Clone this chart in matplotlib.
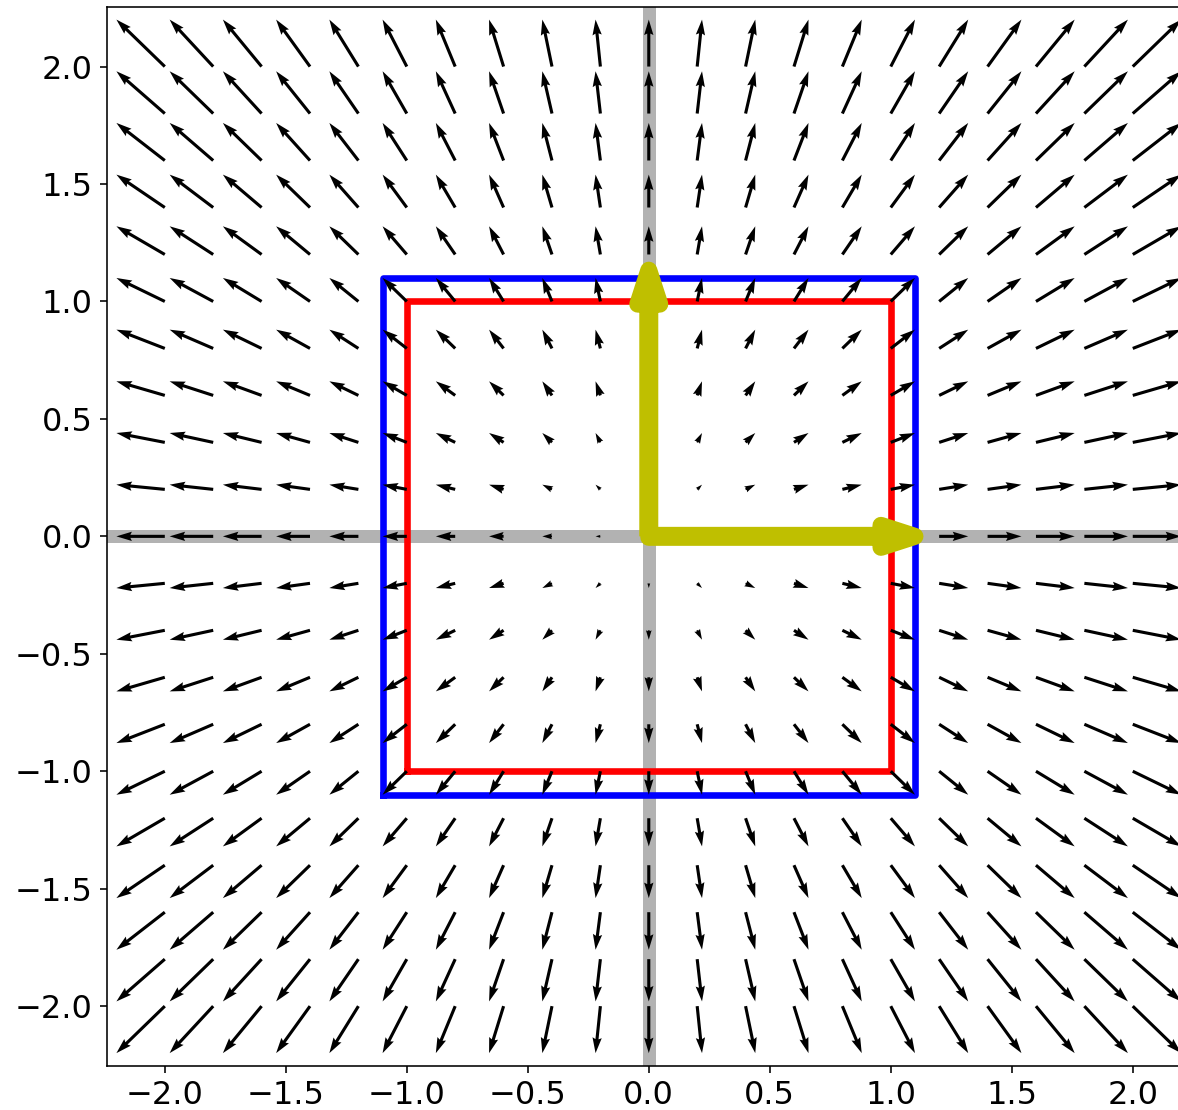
import numpy as np
import matplotlib
matplotlib.use('Agg')
import matplotlib.pyplot as plt

# transformation matrix (scales everything by 1.1)
A = [[1.1, 0.0],
     [0.0, 1.1]]

# grid points where the field arrows start
grid_ticks = [-2.0, -1.8, -1.6, -1.4, -1.2, -1.0, -0.8, -0.6, -0.4, -0.2, 0.0,
              0.2, 0.4, 0.6, 0.8, 1.0, 1.2, 1.4, 1.6, 1.8, 2.0]

# unit square and its image
square_x = [-1.0, 1.0, 1.0, -1.0, -1.0]
square_y = [-1.0, -1.0, 1.0, 1.0, -1.0]
image_x = [-1.1, 1.1, 1.1, -1.1, -1.1]
image_y = [-1.1, -1.1, 1.1, 1.1, -1.1]

# images of the basis vectors
basis_u = [A[0][0], A[0][1]]
basis_v = [A[1][0], A[1][1]]

axis_ticks = [-2.0, -1.5, -1.0, -0.5, 0.0, 0.5, 1.0, 1.5, 2.0]

X, Y = np.meshgrid(grid_ticks, grid_ticks)
M = np.array(A) - np.eye(2)
U = M[0, 0] * X + M[0, 1] * Y
V = M[1, 0] * X + M[1, 1] * Y

fig = plt.figure(figsize=(1178 / 144, 1110 / 144), dpi=144)
ax = fig.add_axes([0.0906, 0.0396, 0.9203, 0.9544])

ax.axhline(0, color='gray', alpha=0.6, lw=6.5, zorder=0.5)
ax.axvline(0, color='gray', alpha=0.6, lw=6.5, zorder=0.5)

ax.plot(square_x, square_y, color='r', lw=3.3, zorder=1.5)
ax.plot(image_x, image_y, color='b', lw=3.3, zorder=1.6)

ax.quiver(X, Y, U, V, angles='xy', scale_units='xy', scale=1, color='k', zorder=2)

ax.quiver([0, 0], [0, 0], [basis_u[0], basis_v[0]], [basis_u[1], basis_v[1]],
          angles='uv', scale_units='x', scale=1, units='dots', width=2,
          headwidth=11, headlength=17, headaxislength=17,
          color='y', edgecolor='y', linewidth=8.5, joinstyle='round', zorder=3)

ax.set_xlim(-2.24, 2.24)
ax.set_ylim(-2.255, 2.255)
ax.set_xticks(axis_ticks)
ax.set_yticks(axis_ticks)
ax.set_xticklabels(['%.1f' % t if t >= 0 else '\u2212%.1f' % -t for t in axis_ticks])
ax.set_yticklabels(['%.1f' % t if t >= 0 else '\u2212%.1f' % -t for t in axis_ticks])
ax.tick_params(labelsize=16)

fig.savefig('out.png', dpi=144)
